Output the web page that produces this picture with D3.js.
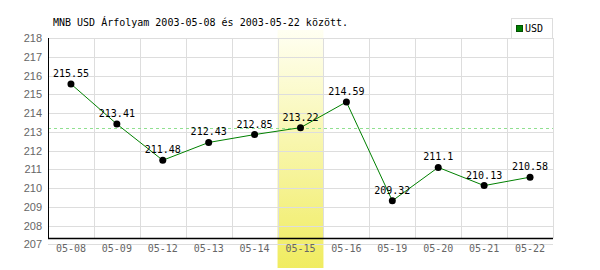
<!DOCTYPE html>
<meta charset="utf-8">
<body style="margin:0;background:#fff">
<script src="https://d3js.org/d3.v7.min.js"></script>
<script>

// Data
var title = "MNB USD Árfolyam 2003-05-08 és 2003-05-22 között.";
var days = ["05-08", "05-09", "05-12", "05-13", "05-14", "05-15",
            "05-16", "05-19", "05-20", "05-21", "05-22"];
var rates = [215.55, 213.41, 211.48, 212.43, 212.85, 213.22,
             214.59, 209.32, 211.1, 210.13, 210.58];
var yTicks = [207, 208, 209, 210, 211, 212, 213, 214, 215, 216, 217, 218];
var highlightDay = "05-15";
var seriesName = "USD";

var width = 600, height = 270;
// plot box (note: "top" is reserved on window, so use other names)
var plotL = 48, plotR = 553, plotT = 38, plotB = 244.3, axisY = 238.3;
var font = "'DejaVu Sans Mono', monospace";

var svg = d3.select("body").append("svg")
    .attr("width", width)
    .attr("height", height)
    .style("display", "block");

var x = d3.scaleBand().domain(days).range([plotL, plotR]);
var y = d3.scaleLinear().domain([207, 218]).range([plotB, plotT]);

// yellow gradient for the highlighted day
var grad = svg.append("defs").append("linearGradient")
    .attr("id", "hl")
    .attr("x1", 0).attr("y1", 0).attr("x2", 0).attr("y2", 1);
grad.append("stop").attr("offset", "0%").attr("stop-color", "#fffff2");
grad.append("stop").attr("offset", "100%").attr("stop-color", "#f0ec60");

svg.append("rect")
    .attr("x", x(highlightDay))
    .attr("y", 30)
    .attr("width", x.bandwidth())
    .attr("height", 268 - 30)
    .attr("fill", "url(#hl)");

// grid
svg.append("g").selectAll("line")
    .data(yTicks)
  .enter().append("line")
    .attr("x1", plotL).attr("x2", plotR)
    .attr("y1", d => Math.round(y(d)) + 0.5)
    .attr("y2", d => Math.round(y(d)) + 0.5)
    .attr("stroke", "#dddddd");

svg.append("g").selectAll("line")
    .data(days)
  .enter().append("line")
    .attr("x1", d => Math.round(x(d) + x.bandwidth()) + 0.5)
    .attr("x2", d => Math.round(x(d) + x.bandwidth()) + 0.5)
    .attr("y1", plotT)
    .attr("y2", axisY)
    .attr("stroke", "#dddddd");

// reference line at the highlighted day's rate
var hlValue = rates[days.indexOf(highlightDay)];
svg.append("line")
    .attr("x1", plotL).attr("x2", plotR)
    .attr("y1", Math.round(y(hlValue)) + 0.5)
    .attr("y2", Math.round(y(hlValue)) + 0.5)
    .attr("stroke", "#90e090")
    .attr("stroke-dasharray", "3,3");

// axes
svg.append("line")
    .attr("x1", plotL + 0.5).attr("x2", plotL + 0.5)
    .attr("y1", plotT).attr("y2", axisY)
    .attr("stroke", "#000");
svg.append("line")
    .attr("x1", plotL).attr("x2", plotR)
    .attr("y1", Math.round(axisY) + 0.5).attr("y2", Math.round(axisY) + 0.5)
    .attr("stroke", "#000").attr("stroke-width", 1.5);

svg.append("g").selectAll("text")
    .data(yTicks)
  .enter().append("text")
    .attr("x", 42)
    .attr("y", d => y(d) + 4)
    .attr("text-anchor", "end")
    .attr("font-family", "'Liberation Sans', Arial, sans-serif")
    .attr("font-size", 11)
    .attr("fill", "#666")
    .text(d => d);

svg.append("g").selectAll("text")
    .data(days)
  .enter().append("text")
    .attr("x", d => x(d) + x.bandwidth() / 2)
    .attr("y", 252)
    .attr("text-anchor", "middle")
    .attr("font-family", font)
    .attr("font-size", 10)
    .attr("fill", "#666")
    .text(d => d);

// series
var line = d3.line()
    .x((d, i) => x(days[i]) + x.bandwidth() / 2)
    .y(d => y(d));

svg.append("path")
    .datum(rates)
    .attr("d", line)
    .attr("fill", "none")
    .attr("stroke", "#008000")
    .attr("stroke-width", 1);

svg.append("g").selectAll("circle")
    .data(rates)
  .enter().append("circle")
    .attr("cx", (d, i) => x(days[i]) + x.bandwidth() / 2)
    .attr("cy", d => y(d))
    .attr("r", 3.5)
    .attr("fill", "#000");

svg.append("g").selectAll("text")
    .data(rates)
  .enter().append("text")
    .attr("x", (d, i) => x(days[i]) + x.bandwidth() / 2)
    .attr("y", d => y(d) - 7)
    .attr("text-anchor", "middle")
    .attr("font-family", font)
    .attr("font-size", 10)
    .attr("fill", "#000")
    .text(d => d);

// title
svg.append("text")
    .attr("x", 53)
    .attr("y", 26)
    .attr("font-family", font)
    .attr("font-size", 10)
    .attr("fill", "#000")
    .text(title);

// legend
var legend = svg.append("g");
legend.append("rect")
    .attr("x", 511.5).attr("y", 18.5)
    .attr("width", 41).attr("height", 20)
    .attr("fill", "#fff")
    .attr("stroke", "#dddddd");
legend.append("rect")
    .attr("x", 516.5).attr("y", 25.5)
    .attr("width", 6).attr("height", 6)
    .attr("fill", "#008000")
    .attr("stroke", "#005000");
legend.append("text")
    .attr("x", 525)
    .attr("y", 32)
    .attr("font-family", font)
    .attr("font-size", 10)
    .attr("fill", "#000")
    .text(seriesName);

</script>
</body>
